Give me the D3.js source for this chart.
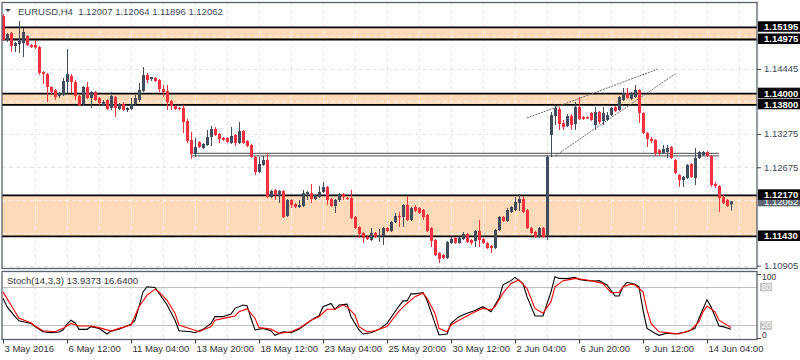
<!DOCTYPE html>
<html>
<head>
<meta charset="utf-8">
<script src="https://cdn.jsdelivr.net/npm/d3@7"></script>
<style>
    html, body { margin: 0; padding: 0; background: #ffffff; }
    svg { display: block; }
</style>
</head>
<body>
<div id="chart"></div>
<script>
(function () {
    'use strict';

    // EURUSD H4, one value per bar, 3 May 2016 20:00 .. 15 Jun 2016 04:00
    var opens = [
        1.15398, 1.14966, 1.15092, 1.14858, 1.14894, 1.14912, 1.15038, 1.14876, 1.14876, 1.14840,
        1.14390, 1.14354, 1.14120, 1.14066, 1.13958, 1.13976, 1.14210, 1.14318, 1.14210, 1.13958,
        1.13814, 1.14120, 1.13922, 1.14030, 1.13922, 1.13796, 1.13886, 1.13742, 1.13940, 1.13724,
        1.13814, 1.13706, 1.13724, 1.13814, 1.13886, 1.14048, 1.14336, 1.14264, 1.14282, 1.14246,
        1.14084, 1.14048, 1.13868, 1.13778, 1.13742, 1.13742, 1.13508, 1.13166, 1.12914, 1.13130,
        1.13022, 1.13076, 1.13220, 1.13364, 1.13274, 1.13202, 1.13202, 1.13112, 1.13256, 1.13112,
        1.13328, 1.13148, 1.13076, 1.12860, 1.12590, 1.12716, 1.12806, 1.12140, 1.12266, 1.12158,
        1.12248, 1.11798, 1.12086, 1.12014, 1.11960, 1.11978, 1.12194, 1.12212, 1.12104, 1.12140,
        1.12230, 1.12320, 1.12104, 1.11978, 1.12086, 1.12194, 1.12122, 1.12122, 1.11780, 1.11600,
        1.11492, 1.11420, 1.11366, 1.11492, 1.11420, 1.11438, 1.11582, 1.11528, 1.11690, 1.11798,
        1.11780, 1.11996, 1.11726, 1.11960, 1.11942, 1.11906, 1.11816, 1.11582, 1.11366, 1.11132,
        1.11096, 1.11042, 1.11312, 1.11402, 1.11312, 1.11384, 1.11474, 1.11366, 1.11348, 1.11528,
        1.11384, 1.11312, 1.11258, 1.11222, 1.11546, 1.11780, 1.11708, 1.11870, 1.11906, 1.12032,
        1.12104, 1.11906, 1.11582, 1.11510, 1.11420, 1.11582, 1.11456, 1.13256, 1.13598, 1.13724,
        1.13472, 1.13418, 1.13598, 1.13454, 1.13760, 1.13580, 1.13580, 1.13652, 1.13436, 1.13670,
        1.13508, 1.13526, 1.13616, 1.13760, 1.13706, 1.13886, 1.14012, 1.13904, 1.13940, 1.14066,
        1.13652, 1.13292, 1.13184, 1.13166, 1.12986, 1.12932, 1.12950, 1.13040, 1.12806, 1.12536,
        1.12446, 1.12482, 1.12734, 1.12482, 1.12842, 1.12896, 1.12950, 1.12878, 1.12374, 1.12338,
        1.12140, 1.12086, 1.12007
    ];
    var highs = [
        1.15434, 1.15092, 1.15110, 1.14930, 1.15308, 1.15182, 1.15056, 1.14894, 1.14966, 1.14858,
        1.14408, 1.14372, 1.14138, 1.14084, 1.14030, 1.14282, 1.14804, 1.14354, 1.14246, 1.13976,
        1.14138, 1.14210, 1.14048, 1.14048, 1.13940, 1.13886, 1.13904, 1.14030, 1.13958, 1.13832,
        1.13850, 1.13760, 1.13922, 1.13976, 1.14192, 1.14480, 1.14372, 1.14300, 1.14300, 1.14264,
        1.14156, 1.14156, 1.13886, 1.13796, 1.13760, 1.13796, 1.13544, 1.13310, 1.13202, 1.13148,
        1.13112, 1.13346, 1.13418, 1.13400, 1.13292, 1.13220, 1.13220, 1.13400, 1.13274, 1.13490,
        1.13346, 1.13166, 1.13094, 1.12878, 1.12860, 1.12878, 1.12932, 1.12266, 1.12284, 1.12266,
        1.12266, 1.12104, 1.12104, 1.12032, 1.12086, 1.12266, 1.12248, 1.12374, 1.12194, 1.12338,
        1.12410, 1.12338, 1.12122, 1.12104, 1.12212, 1.12212, 1.12140, 1.12266, 1.11798, 1.11618,
        1.11510, 1.11438, 1.11582, 1.11510, 1.11564, 1.11600, 1.11600, 1.11708, 1.11852, 1.11870,
        1.12014, 1.12158, 1.11960, 1.11996, 1.11960, 1.11924, 1.11834, 1.11600, 1.11384, 1.11150,
        1.11114, 1.11348, 1.11420, 1.11420, 1.11420, 1.11510, 1.11492, 1.11384, 1.11546, 1.11726,
        1.11402, 1.11330, 1.11276, 1.11564, 1.11798, 1.11798, 1.11942, 1.11978, 1.12140, 1.12194,
        1.12158, 1.11924, 1.11600, 1.11528, 1.11600, 1.11600, 1.12896, 1.13670, 1.13778, 1.13760,
        1.13526, 1.13634, 1.13634, 1.13850, 1.13940, 1.13598, 1.13598, 1.13670, 1.13760, 1.13688,
        1.13760, 1.13670, 1.13760, 1.13778, 1.13958, 1.14102, 1.14102, 1.14030, 1.14156, 1.14084,
        1.13670, 1.13310, 1.13220, 1.13184, 1.13004, 1.13076, 1.13076, 1.13058, 1.12824, 1.12554,
        1.12518, 1.12734, 1.12752, 1.13022, 1.12968, 1.12968, 1.12968, 1.12896, 1.12410, 1.12356,
        1.12194, 1.12104, 1.12064
    ];
    var lows = [
        1.14948, 1.14930, 1.14750, 1.14750, 1.14732, 1.14660, 1.14858, 1.14822, 1.14804, 1.14336,
        1.14174, 1.13850, 1.13976, 1.13886, 1.13922, 1.13958, 1.14012, 1.14012, 1.13886, 1.13778,
        1.13778, 1.13904, 1.13742, 1.13868, 1.13796, 1.13778, 1.13706, 1.13706, 1.13580, 1.13706,
        1.13688, 1.13670, 1.13706, 1.13796, 1.13850, 1.14030, 1.14192, 1.14228, 1.14210, 1.14030,
        1.13940, 1.13706, 1.13706, 1.13706, 1.13706, 1.13292, 1.13112, 1.12824, 1.12860, 1.13022,
        1.13004, 1.13058, 1.13058, 1.13238, 1.13112, 1.13148, 1.13112, 1.13094, 1.13058, 1.13094,
        1.13094, 1.13040, 1.12842, 1.12536, 1.12572, 1.12698, 1.12122, 1.12122, 1.12086, 1.12032,
        1.11762, 1.11780, 1.11942, 1.11942, 1.11942, 1.11960, 1.12086, 1.12032, 1.12086, 1.12122,
        1.12212, 1.11996, 1.11960, 1.11852, 1.12050, 1.12086, 1.12086, 1.11744, 1.11564, 1.11402,
        1.11312, 1.11366, 1.11348, 1.11402, 1.11330, 1.11276, 1.11510, 1.11510, 1.11672, 1.11600,
        1.11600, 1.11708, 1.11708, 1.11870, 1.11834, 1.11726, 1.11510, 1.11240, 1.11078, 1.10952,
        1.11024, 1.11024, 1.11294, 1.11294, 1.11294, 1.11366, 1.11312, 1.11276, 1.11240, 1.11240,
        1.11294, 1.11204, 1.11132, 1.11204, 1.11528, 1.11690, 1.11690, 1.11852, 1.11888, 1.11888,
        1.11852, 1.11564, 1.11474, 1.11402, 1.11402, 1.11402, 1.11366, 1.12860, 1.13436, 1.13346,
        1.13346, 1.13400, 1.13346, 1.13346, 1.13526, 1.13526, 1.13544, 1.13508, 1.13346, 1.13454,
        1.13436, 1.13508, 1.13598, 1.13670, 1.13688, 1.13868, 1.13904, 1.13886, 1.13922, 1.13472,
        1.13274, 1.13040, 1.13112, 1.12878, 1.12878, 1.12914, 1.12842, 1.12824, 1.12554, 1.12320,
        1.12320, 1.12464, 1.12482, 1.12356, 1.12824, 1.12878, 1.12860, 1.12320, 1.12302, 1.11870,
        1.12014, 1.11960, 1.11896
    ];
    var closes = [
        1.14966, 1.15074, 1.14858, 1.14912, 1.14948, 1.15110, 1.14876, 1.14840, 1.14831, 1.14372,
        1.14354, 1.14120, 1.14030, 1.13940, 1.14012, 1.14228, 1.14354, 1.14210, 1.13958, 1.13796,
        1.14120, 1.13922, 1.14030, 1.13886, 1.13832, 1.13850, 1.13724, 1.13958, 1.13742, 1.13814,
        1.13706, 1.13742, 1.13814, 1.13922, 1.14066, 1.14336, 1.14246, 1.14300, 1.14228, 1.14084,
        1.14030, 1.13850, 1.13778, 1.13724, 1.13724, 1.13490, 1.13148, 1.12914, 1.13040, 1.13040,
        1.13094, 1.13220, 1.13364, 1.13256, 1.13184, 1.13166, 1.13130, 1.13238, 1.13112, 1.13328,
        1.13112, 1.13058, 1.12860, 1.12590, 1.12734, 1.12806, 1.12140, 1.12248, 1.12176, 1.12248,
        1.11780, 1.12086, 1.11996, 1.11960, 1.11996, 1.12212, 1.12230, 1.12104, 1.12176, 1.12230,
        1.12320, 1.12086, 1.11978, 1.12086, 1.12194, 1.12140, 1.12104, 1.11762, 1.11582, 1.11474,
        1.11402, 1.11384, 1.11492, 1.11420, 1.11456, 1.11582, 1.11528, 1.11690, 1.11798, 1.11780,
        1.11996, 1.11726, 1.11942, 1.11888, 1.11852, 1.11780, 1.11528, 1.11348, 1.11096, 1.11024,
        1.11042, 1.11330, 1.11384, 1.11312, 1.11402, 1.11474, 1.11330, 1.11312, 1.11528, 1.11366,
        1.11312, 1.11222, 1.11222, 1.11546, 1.11780, 1.11708, 1.11906, 1.11960, 1.12050, 1.12104,
        1.11870, 1.11582, 1.11492, 1.11420, 1.11582, 1.11420, 1.12860, 1.13616, 1.13742, 1.13454,
        1.13400, 1.13598, 1.13436, 1.13760, 1.13544, 1.13544, 1.13553, 1.13526, 1.13670, 1.13490,
        1.13652, 1.13616, 1.13742, 1.13688, 1.13940, 1.14012, 1.13922, 1.14012, 1.14066, 1.13652,
        1.13292, 1.13184, 1.13148, 1.12932, 1.12932, 1.13004, 1.13022, 1.12842, 1.12572, 1.12446,
        1.12500, 1.12716, 1.12500, 1.12842, 1.12950, 1.12950, 1.12878, 1.12356, 1.12338, 1.12122,
        1.12032, 1.11978, 1.12062
    ];

    var timeLabelBars = [0, 16, 32, 48, 64, 80, 96, 112, 128, 144, 160, 176];
    var timeLabels = ['3 May 2016', '6 May 12:00', '11 May 04:00', '13 May 20:00', '18 May 12:00', '23 May 04:00',
        '25 May 20:00', '30 May 12:00', '2 Jun 04:00', '6 Jun 20:00', '9 Jun 12:00', '14 Jun 04:00'];

    // grid rows; only some of them get a readable label, the rest sit under the level tags
    var gridPrices = [1.15030, 1.14445, 1.13860, 1.13275, 1.12675, 1.12080, 1.11490, 1.10905];
    var priceLabels = [1.14445, 1.13275, 1.12675, 1.10905];
    var zones = [[1.15195, 1.14975], [1.14000, 1.13800], [1.12170, 1.11430]];
    var pivotLines = [1.12927, 1.12879];
    var pivotBars = [47, 179];
    var trendStarts = [[131, 1.13562], [138, 1.12878]];
    var trendEnds = [[163.75, 1.14444], [168, 1.14354]];

    var stochMainBars = [0, 1, 3, 4, 7, 8, 10, 12, 14, 15, 16, 17, 18, 19, 21, 22, 24, 26, 27, 29,
        32, 33, 34, 35, 36, 38, 39, 41, 43, 44, 47, 48, 50, 52, 53, 55, 57, 58, 60, 61,
        62, 63, 65, 67, 68, 70, 72, 74, 76, 78, 79, 80, 82, 83, 84, 86, 87, 89, 90, 92,
        94, 96, 99, 100, 101, 102, 103, 105, 106, 108, 109, 111, 112, 114, 116, 118, 120, 122, 124, 125,
        127, 128, 130, 131, 133, 135, 137, 138, 139, 141, 143, 144, 146, 148, 149, 151, 153, 154, 155, 156,
        158, 159, 160, 161, 163, 164, 166, 168, 171, 173, 174, 176, 177, 179, 180, 182];
    var stochMainValues = [62, 49, 33.5, 27, 23, 18, 10, 8.6, 9.6, 12.8, 22, 28, 24, 13.8, 13.8, 18, 15.3, 6.5, 11, 14,
        21.6, 28, 49, 72, 80, 79, 70, 52, 28, 11.7, 10, 8.6, 13.8, 23, 33.5, 33.5, 37.6, 46.4, 51.6, 50.6,
        31, 12.8, 15.3, 11.7, 4.5, 10, 8.6, 13.8, 23, 32, 34.5, 49, 54, 45, 51.6, 53, 33.5, 12.8, 6.5, 8.6,
        13.8, 23, 50, 58, 58, 69, 69, 71, 59, 23, 5, 6.5, 23, 33.5, 38.7, 43, 49, 41, 62, 83,
        89.5, 94.6, 85, 64.6, 34.5, 34.5, 72, 95.7, 93, 92.6, 94.6, 91.5, 89.5, 89, 89.5, 82.7, 65.6, 65.6, 80, 87,
        84, 80, 44, 15.3, 7.6, 4.5, 7.6, 6.5, 10, 15.3, 31, 60, 49, 19, 18, 13.9373];
    var stochSignalBars = [0, 2, 4, 7, 8, 10, 13, 15, 17, 19, 22, 24, 27, 29, 32, 34, 36, 38, 39, 41,
        43, 44, 47, 49, 52, 53, 56, 58, 59, 61, 63, 64, 67, 69, 72, 74, 77, 79, 81, 83,
        85, 86, 88, 89, 91, 93, 96, 99, 101, 103, 105, 106, 108, 109, 111, 112, 114, 116, 118, 120,
        122, 123, 125, 127, 129, 131, 133, 135, 137, 138, 140, 142, 143, 146, 148, 150, 152, 154, 155, 157,
        158, 160, 161, 162, 164, 166, 169, 172, 174, 175, 176, 178, 179, 182];
    var stochSignalValues = [72, 51.6, 31, 24, 19, 11.7, 10, 15.3, 23, 19, 19, 16.4, 11, 15.3, 20.5, 49, 67, 76, 72, 59,
        38.7, 20.5, 14.3, 10, 18, 28, 32, 34.5, 41, 46, 31, 16.4, 14.3, 7.6, 10, 15.3, 28, 33.5, 45, 45,
        51.6, 49, 36, 18, 10, 11.7, 18, 42, 54, 64.6, 70, 62, 38.7, 15.3, 10, 20.5, 28, 34.5, 41, 46.4,
        44, 49, 70, 85, 90.5, 77.6, 46.4, 38.7, 56.8, 80, 89.5, 91.5, 93, 90.5, 88, 85, 71, 71, 80, 84,
        82.7, 72, 44, 23, 10, 8.6, 6.5, 12.8, 25.7, 41, 50, 41, 28, 16.64];
    var stochLevels = [80, 20];
    var stochScaleLabels = [100, 0];

    var WIDTH = 800;
    var HEIGHT = 360;
    var LEFT = 2;
    var RIGHT = 757;
    var MAIN_TOP = 2.5;
    var MAIN_BOTTOM = 268.5;
    var SUB_TOP = 271.5;
    var SUB_BOTTOM = 339.5;
    var BULL = '#414d5d';
    var BEAR = '#f3323f';
    var FRAME = '#56616c';
    var FONT = '"Liberation Sans", Arial, sans-serif';
    var fmtPrice = d3.format('.5f');

    var x = d3.scaleLinear().domain([0, 182]).range([3, 731]);
    var y = d3.scaleLinear().domain([1.10862, 1.15632]).range([268, 3]);
    var ys = d3.scaleLinear().domain([0, 100]).range([338.2, 273.9]);

    var svg = d3.select('#chart').append('svg')
        .attr('width', WIDTH)
        .attr('height', HEIGHT)
        .attr('font-family', FONT)
        .attr('font-size', 9.5);

    var defs = svg.append('defs');
    defs.append('clipPath').attr('id', 'mainClip').append('rect')
        .attr('x', LEFT).attr('y', MAIN_TOP)
        .attr('width', RIGHT - LEFT).attr('height', MAIN_BOTTOM - MAIN_TOP);
    defs.append('clipPath').attr('id', 'subClip').append('rect')
        .attr('x', LEFT).attr('y', SUB_TOP)
        .attr('width', RIGHT - LEFT).attr('height', SUB_BOTTOM - SUB_TOP);
    defs.append('clipPath').attr('id', 'zoneClip').selectAll('rect')
        .data(zones).enter().append('rect')
        .attr('x', LEFT).attr('width', RIGHT - LEFT)
        .attr('y', function (d) { return y(d[0]); })
        .attr('height', function (d) { return y(d[1]) - y(d[0]); });

    var gridBars = d3.range(8, 187, 8);

    drawZones();
    drawGrid(svg.append('g'), '#e4e4e4');
    drawGrid(svg.append('g').attr('clip-path', 'url(#zoneClip)'), '#fbf3ec');
    drawLevels();
    drawCandles();
    drawStoch();
    drawFrames();
    drawPriceAxis();
    drawTimeAxis();
    drawTitles();

    function drawZones() {
        svg.append('g').selectAll('rect')
            .data(zones).enter().append('rect')
            .attr('x', LEFT).attr('width', RIGHT - LEFT)
            .attr('y', function (d) { return y(d[0]); })
            .attr('height', function (d) { return y(d[1]) - y(d[0]); })
            .attr('fill', '#ffdab9');
    }

    function drawGrid(g, colour) {
        g.selectAll('line.vm')
            .data(gridBars).enter().append('line')
            .attr('class', 'vm')
            .attr('x1', function (d) { return x(d) + 0.5; })
            .attr('x2', function (d) { return x(d) + 0.5; })
            .attr('y1', MAIN_TOP).attr('y2', MAIN_BOTTOM);
        g.selectAll('line.vs')
            .data(gridBars).enter().append('line')
            .attr('class', 'vs')
            .attr('x1', function (d) { return x(d) + 0.5; })
            .attr('x2', function (d) { return x(d) + 0.5; })
            .attr('y1', SUB_TOP).attr('y2', SUB_BOTTOM);
        g.selectAll('line.h')
            .data(gridPrices).enter().append('line')
            .attr('class', 'h')
            .attr('x1', LEFT).attr('x2', RIGHT)
            .attr('y1', function (d) { return Math.round(y(d)) + 0.5; })
            .attr('y2', function (d) { return Math.round(y(d)) + 0.5; });
        g.selectAll('line')
            .attr('stroke', colour)
            .attr('stroke-dasharray', '4,3');
    }

    function drawLevels() {
        var g = svg.append('g');
        g.selectAll('line.zone')
            .data(d3.merge(zones)).enter().append('line')
            .attr('class', 'zone')
            .attr('x1', LEFT).attr('x2', RIGHT)
            .attr('y1', function (d) { return y(d); })
            .attr('y2', function (d) { return y(d); })
            .attr('stroke', '#000')
            .attr('stroke-width', 1.8);
        g.selectAll('line.pivot')
            .data(pivotLines).enter().append('line')
            .attr('class', 'pivot')
            .attr('x1', x(pivotBars[0])).attr('x2', x(pivotBars[1]))
            .attr('y1', function (d) { return y(d); })
            .attr('y2', function (d) { return y(d); })
            .attr('stroke', '#6e6e6e')
            .attr('stroke-width', 1.3);
        g.selectAll('line.trend')
            .data(d3.zip(trendStarts, trendEnds)).enter().append('line')
            .attr('class', 'trend')
            .attr('x1', function (d) { return x(d[0][0]); })
            .attr('y1', function (d) { return y(d[0][1]); })
            .attr('x2', function (d) { return x(d[1][0]); })
            .attr('y2', function (d) { return y(d[1][1]); })
            .attr('stroke', '#6a6a6a')
            .attr('stroke-width', 1)
            .attr('stroke-dasharray', '2,1');
    }

    function drawCandles() {
        var bars = d3.range(opens.length);
        var g = svg.append('g').attr('clip-path', 'url(#mainClip)');
        function colour(i) { return closes[i] >= opens[i] ? BULL : BEAR; }
        g.selectAll('line')
            .data(bars).enter().append('line')
            .attr('x1', function (i) { return x(i) + 0.5; })
            .attr('x2', function (i) { return x(i) + 0.5; })
            .attr('y1', function (i) { return y(highs[i]); })
            .attr('y2', function (i) { return y(lows[i]); })
            .attr('stroke', colour);
        g.selectAll('rect')
            .data(bars).enter().append('rect')
            .attr('x', function (i) { return x(i) - 1; })
            .attr('width', 3)
            .attr('y', function (i) { return y(Math.max(opens[i], closes[i])); })
            .attr('height', function (i) { return Math.max(1, Math.abs(y(opens[i]) - y(closes[i]))); })
            .attr('fill', colour);
    }

    function drawStoch() {
        var g = svg.append('g').attr('clip-path', 'url(#subClip)');
        g.selectAll('line.level')
            .data(stochLevels).enter().append('line')
            .attr('class', 'level')
            .attr('x1', LEFT).attr('x2', RIGHT)
            .attr('y1', function (d) { return Math.round(ys(d)) + 0.5; })
            .attr('y2', function (d) { return Math.round(ys(d)) + 0.5; })
            .attr('stroke', '#c0c0c0');
        var line = d3.line()
            .x(function (d) { return x(d[0]); })
            .y(function (d) { return ys(d[1]); });
        g.append('path')
            .datum(d3.zip(stochMainBars, stochMainValues))
            .attr('d', line)
            .attr('fill', 'none')
            .attr('stroke', '#000')
            .attr('stroke-width', 1.1);
        g.append('path')
            .datum(d3.zip(stochSignalBars, stochSignalValues))
            .attr('d', line)
            .attr('fill', 'none')
            .attr('stroke', '#ff0000')
            .attr('stroke-width', 1.1);
    }

    function drawFrames() {
        svg.append('rect')
            .attr('x', LEFT).attr('y', MAIN_TOP)
            .attr('width', RIGHT - LEFT).attr('height', MAIN_BOTTOM - MAIN_TOP)
            .attr('fill', 'none').attr('stroke', FRAME).attr('stroke-width', 1.3);
        svg.append('rect')
            .attr('x', LEFT).attr('y', SUB_TOP)
            .attr('width', RIGHT - LEFT).attr('height', SUB_BOTTOM - SUB_TOP)
            .attr('fill', 'none').attr('stroke', FRAME).attr('stroke-width', 1.3);
    }

    function drawPriceAxis() {
        var axis = d3.axisRight(y)
            .tickValues(priceLabels)
            .tickFormat(fmtPrice)
            .tickSize(4)
            .tickPadding(3);
        var g = svg.append('g')
            .attr('transform', 'translate(' + RIGHT + ',0)')
            .call(axis);
        g.select('.domain').remove();
        g.attr('font-family', FONT).attr('font-size', 9.5);
        g.selectAll('line').attr('stroke', '#444');
        g.selectAll('text').attr('fill', '#3c4856');

        // last price tag, then the level tags on top of it
        var last = opens.length - 1;
        var tag = svg.append('g').attr('transform', 'translate(' + (RIGHT + 1) + ',' + y(closes[last]) + ')');
        tag.append('rect').attr('x', 0).attr('y', -5.5).attr('width', WIDTH - RIGHT).attr('height', 10.5).attr('fill', '#5b6672');
        tag.append('text').attr('x', 6).attr('dy', '0.34em').attr('fill', '#fff').text(fmtPrice(closes[last]));

        var tags = svg.append('g').selectAll('g')
            .data(d3.merge(zones)).enter().append('g')
            .attr('transform', function (d) { return 'translate(' + (RIGHT + 1) + ',' + y(d) + ')'; });
        tags.append('rect')
            .attr('x', 0).attr('y', -6)
            .attr('width', WIDTH - RIGHT).attr('height', 10.5)
            .attr('fill', '#000');
        tags.append('text')
            .attr('x', 6).attr('dy', '0.3em')
            .attr('fill', '#fff')
            .attr('font-weight', 'bold')
            .text(fmtPrice);

        // stochastic scale
        var sub = svg.append('g')
            .attr('transform', 'translate(' + RIGHT + ',0)')
            .attr('font-size', 8.5);
        sub.selectAll('line')
            .data(stochScaleLabels).enter().append('line')
            .attr('x1', 0).attr('x2', 4)
            .attr('y1', function (d) { return Math.round(ys(d)) + 0.5; })
            .attr('y2', function (d) { return Math.round(ys(d)) + 0.5; })
            .attr('stroke', '#444');
        sub.selectAll('text.edge')
            .data(stochScaleLabels).enter().append('text')
            .attr('class', 'edge')
            .attr('x', 5)
            .attr('y', function (d) { return Math.min(Math.max(ys(d), SUB_TOP + 5.5), SUB_BOTTOM - 4.5); })
            .attr('dy', '0.34em')
            .attr('fill', '#333')
            .text(function (d) { return d; });
        var lv = sub.selectAll('g.lv')
            .data(stochLevels).enter().append('g')
            .attr('class', 'lv')
            .attr('transform', function (d) { return 'translate(3,' + ys(d) + ')'; });
        lv.append('rect').attr('x', 0).attr('y', -4).attr('width', 12).attr('height', 8.5).attr('fill', '#c4c4c4');
        lv.append('text').attr('x', 1.5).attr('dy', '0.34em').attr('fill', '#fff').text(function (d) { return d; });
    }

    function drawTimeAxis() {
        var axis = d3.axisBottom(x)
            .tickValues(timeLabelBars)
            .tickFormat(function (d, i) { return timeLabels[i]; })
            .tickSize(4)
            .tickPadding(2);
        var g = svg.append('g')
            .attr('transform', 'translate(0,' + SUB_BOTTOM + ')')
            .call(axis);
        g.select('.domain').remove();
        g.attr('font-family', FONT).attr('font-size', 9.5);
        g.selectAll('line').attr('stroke', '#444');
        g.selectAll('text')
            .attr('text-anchor', 'start')
            .attr('x', 1)
            .attr('fill', '#333');
    }

    function drawTitles() {
        var last = opens.length - 1;
        svg.append('path')
            .attr('d', d3.line()([[5, 9], [11, 9], [8, 12]]) + 'Z')
            .attr('fill', '#3c4856');
        svg.append('text')
            .attr('x', 18).attr('y', 15)
            .attr('fill', '#3c4856')
            .style('white-space', 'pre')
            .text('EURUSD,H4  ' + [opens[last], highs[last], lows[last], closes[last]].map(fmtPrice).join(' '));
        svg.append('text')
            .attr('x', 7).attr('y', 284)
            .attr('fill', '#333')
            .text('Stoch(14,3,3) ' + d3.format('.4f')(stochMainValues[stochMainValues.length - 1]) + ' ' +
                d3.format('.4f')(stochSignalValues[stochSignalValues.length - 1]));
    }
})();
</script>
</body>
</html>
